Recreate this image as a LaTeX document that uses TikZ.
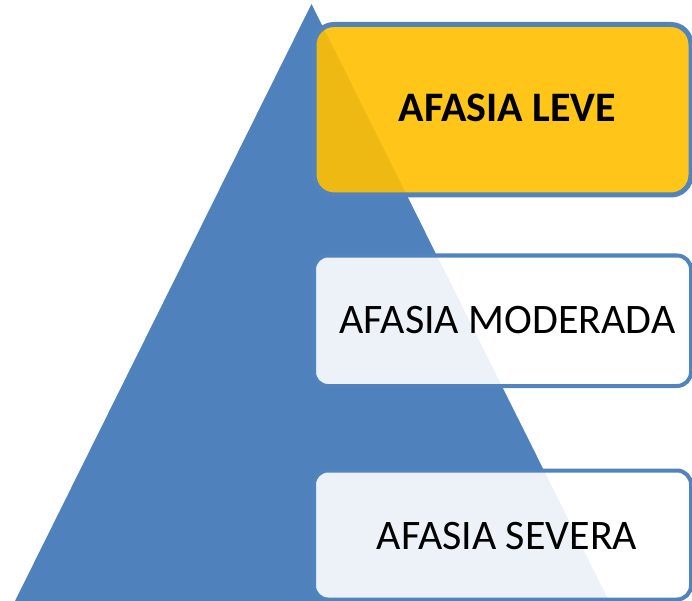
\documentclass[tikz,border=0pt]{standalone}
\usepackage{fontspec}
\setmainfont{Carlito}
\definecolor{triblue}{RGB}{79,129,189}
\definecolor{edgeblue}{RGB}{81,131,191}
\definecolor{boxyellow}{RGB}{255,192,0}
\tikzset{
  lvlbox/.style={draw=edgeblue, fill opacity=0.9},
  lvltext/.style={anchor=base, inner sep=0pt, text=black,
    font=\fontsize{42}{50}\selectfont},
}
\begin{document}
\begin{tikzpicture}[x=1pt,y=-1pt]
\useasboundingbox (0,0) rectangle (692,601);
\clip (0,0) rectangle (692,601);
% pyramid
\fill[triblue] (311.5,4) -- (15,601) -- (609,601) -- cycle;
% boxes
\draw[lvlbox, line width=5pt, fill=boxyellow, rounded corners=20pt] (314,24.5) rectangle (691,195);
\draw[lvlbox, line width=4pt, fill=white, rounded corners=14pt] (314,255.5) rectangle (691,386);
\draw[lvlbox, line width=4pt, fill=white, rounded corners=14pt] (314,470.5) rectangle (691,599.5);
% labels
\node[lvltext, font=\fontsize{42}{50}\selectfont\bfseries] (leve) at (507.5,122) {AFASIA LEVE};
\node[lvltext] (moderada) at (507.5,333) {AFASIA MODERADA};
\node[lvltext] (severa) at (507,549) {AFASIA SEVERA};
\end{tikzpicture}
\end{document}
